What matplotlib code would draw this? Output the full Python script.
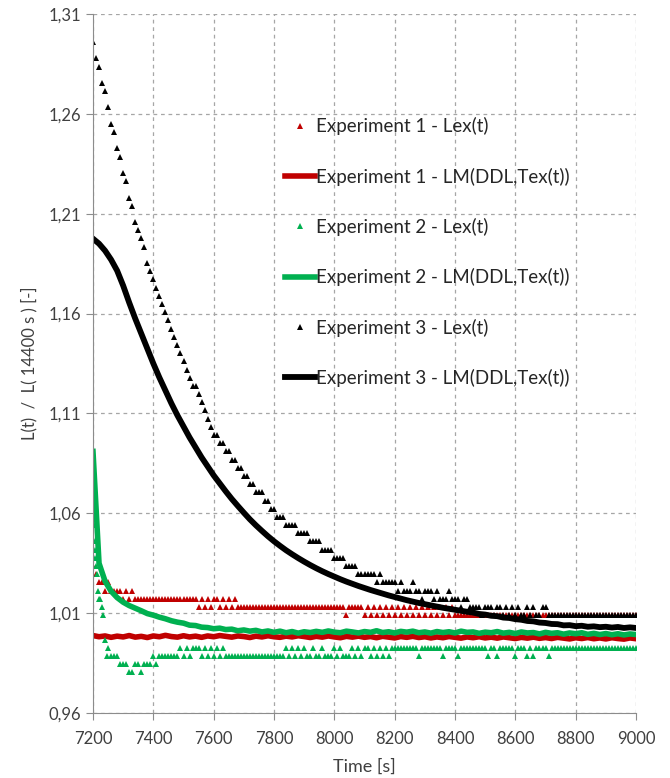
import numpy as np
import matplotlib
matplotlib.use('Agg')
import matplotlib.pyplot as plt
from matplotlib.ticker import FuncFormatter

plt.rcParams['font.family'] = ['Lato', 'DejaVu Sans']

# time axes [s]
t_lex = np.arange(7200, 9001, 10)   # measured points every 10 s
t_lm = np.arange(7200, 9001, 20)    # model output every 20 s

# Experiment 1 - Lex(t)
red_lex = [
    1.0336, 1.0295, 1.0254, 1.0254, 1.0213, 1.0254, 1.0213, 1.0213, 1.0213, 1.0213,
    1.0172, 1.0213, 1.0172, 1.0213, 1.0172, 1.0172, 1.0172, 1.0172, 1.0172, 1.0172,
    1.0172, 1.0172, 1.0172, 1.0172, 1.0172, 1.0172, 1.0172, 1.0172, 1.0172, 1.0172,
    1.0172, 1.0172, 1.0172, 1.0172, 1.0172, 1.0131, 1.0172, 1.0131, 1.0172, 1.0131,
    1.0172, 1.0172, 1.0131, 1.0172, 1.0131, 1.0172, 1.0131, 1.0172, 1.0131, 1.0131,
    1.0131, 1.0131, 1.0131, 1.0131, 1.0131, 1.0131, 1.0131, 1.0131, 1.0131, 1.0131,
    1.0131, 1.0131, 1.0131, 1.0131, 1.0131, 1.0131, 1.0131, 1.0131, 1.0131, 1.0131,
    1.0131, 1.0131, 1.0131, 1.0131, 1.0131, 1.0131, 1.0131, 1.0131, 1.0131, 1.0131,
    1.0131, 1.0131, 1.0131, 1.0131, 1.0090, 1.0131, 1.0131, 1.0131, 1.0131, 1.0131,
    1.0090, 1.0131, 1.0090, 1.0131, 1.0090, 1.0131, 1.0090, 1.0131, 1.0090, 1.0131,
    1.0090, 1.0131, 1.0090, 1.0131, 1.0090, 1.0131, 1.0090, 1.0131, 1.0090, 1.0131,
    1.0090, 1.0131, 1.0090, 1.0131, 1.0090, 1.0131, 1.0090, 1.0131, 1.0090, 1.0131,
    1.0090, 1.0090, 1.0090, 1.0090, 1.0090, 1.0090, 1.0090, 1.0090, 1.0090, 1.0090,
    1.0090, 1.0090, 1.0090, 1.0090, 1.0090, 1.0090, 1.0090, 1.0090, 1.0090, 1.0090,
    1.0090, 1.0090, 1.0090, 1.0090, 1.0090, 1.0090, 1.0090, 1.0090, 1.0090, 1.0090,
    1.0090, 1.0090, 1.0090, 1.0090, 1.0090, 1.0090, 1.0090, 1.0090, 1.0090, 1.0090,
    1.0090, 1.0090, 1.0090, 1.0090, 1.0090, 1.0090, 1.0090, 1.0090, 1.0090, 1.0090,
    1.0090, 1.0090, 1.0090, 1.0090, 1.0090, 1.0090, 1.0090, 1.0090, 1.0090, 1.0090,
    1.0090,
]

# Experiment 1 - LM(DDL,Tex(t))
red_lm = [
    0.9988, 0.9982, 0.9986, 0.9979, 0.9985, 0.9981, 0.9988, 0.9980, 0.9984, 0.9978,
    0.9986, 0.9982, 0.9989, 0.9983, 0.9980, 0.9987, 0.9981, 0.9985, 0.9979, 0.9986,
    0.9982, 0.9988, 0.9984, 0.9980, 0.9986, 0.9983, 0.9978, 0.9985, 0.9981, 0.9987,
    0.9982, 0.9979, 0.9985, 0.9981, 0.9987, 0.9983, 0.9978, 0.9984, 0.9980, 0.9986,
    0.9981, 0.9977, 0.9984, 0.9980, 0.9985, 0.9979, 0.9983, 0.9977, 0.9984, 0.9980,
    0.9976, 0.9983, 0.9979, 0.9984, 0.9978, 0.9982, 0.9976, 0.9981, 0.9977, 0.9983,
    0.9979, 0.9975, 0.9981, 0.9977, 0.9982, 0.9976, 0.9980, 0.9975, 0.9981, 0.9977,
    0.9973, 0.9979, 0.9975, 0.9980, 0.9974, 0.9978, 0.9973, 0.9979, 0.9975, 0.9971,
    0.9977, 0.9973, 0.9978, 0.9972, 0.9976, 0.9971, 0.9977, 0.9973, 0.9970, 0.9976,
    0.9972,
]

# Experiment 2 - Lex(t)
green_lex = [
    1.0705, 1.0336, 1.0172, 1.0131, 0.9967, 0.9926, 0.9885, 0.9885, 0.9885, 0.9844,
    0.9844, 0.9844, 0.9803, 0.9803, 0.9844, 0.9844, 0.9803, 0.9844, 0.9844, 0.9844,
    0.9885, 0.9844, 0.9885, 0.9885, 0.9885, 0.9885, 0.9885, 0.9885, 0.9885, 0.9926,
    0.9885, 0.9926, 0.9885, 0.9926, 0.9926, 0.9926, 0.9885, 0.9926, 0.9885, 0.9926,
    0.9885, 0.9926, 0.9885, 0.9926, 0.9885, 0.9885, 0.9885, 0.9885, 0.9885, 0.9885,
    0.9885, 0.9885, 0.9885, 0.9885, 0.9885, 0.9885, 0.9885, 0.9885, 0.9885, 0.9885,
    0.9885, 0.9885, 0.9885, 0.9885, 0.9926, 0.9885, 0.9926, 0.9885, 0.9926, 0.9885,
    0.9926, 0.9885, 0.9885, 0.9926, 0.9885, 0.9885, 0.9926, 0.9885, 0.9885, 0.9885,
    0.9926, 0.9885, 0.9926, 0.9885, 0.9885, 0.9885, 0.9926, 0.9885, 0.9926, 0.9885,
    0.9926, 0.9926, 0.9885, 0.9926, 0.9885, 0.9926, 0.9885, 0.9926, 0.9885, 0.9926,
    0.9926, 0.9926, 0.9926, 0.9926, 0.9926, 0.9926, 0.9926, 0.9926, 0.9885, 0.9926,
    0.9926, 0.9926, 0.9926, 0.9926, 0.9926, 0.9926, 0.9885, 0.9926, 0.9926, 0.9926,
    0.9926, 0.9885, 0.9926, 0.9926, 0.9926, 0.9926, 0.9926, 0.9926, 0.9926, 0.9926,
    0.9926, 0.9885, 0.9926, 0.9926, 0.9885, 0.9926, 0.9926, 0.9926, 0.9926, 0.9926,
    0.9885, 0.9926, 0.9926, 0.9926, 0.9885, 0.9926, 0.9885, 0.9926, 0.9926, 0.9926,
    0.9926, 0.9885, 0.9926, 0.9926, 0.9926, 0.9926, 0.9926, 0.9926, 0.9926, 0.9926,
    0.9926, 0.9926, 0.9926, 0.9926, 0.9926, 0.9926, 0.9926, 0.9926, 0.9926, 0.9926,
    0.9926, 0.9926, 0.9926, 0.9926, 0.9926, 0.9926, 0.9926, 0.9926, 0.9926, 0.9926,
    0.9926,
]
# extra points of the fast drop right after 7200 s
green_lex_t0 = [7201, 7202, 7203, 7205, 7207, 7213, 7216, 7224, 7233, 7245]
green_lex_v0 = [1.0623, 1.0541, 1.0459, 1.0418, 1.0377, 1.0295, 1.0213, 1.0172, 1.0090, 0.9885]

# Experiment 2 - LM(DDL,Tex(t))
green_lm = [
    1.0910, 1.0350, 1.0260, 1.0210, 1.0178, 1.0155, 1.0138, 1.0125, 1.0112, 1.0098,
    1.0090, 1.0080, 1.0072, 1.0062, 1.0055, 1.0050, 1.0040, 1.0038, 1.0030, 1.0028,
    1.0022, 1.0025, 1.0018, 1.0020, 1.0012, 1.0016, 1.0010, 1.0014, 1.0006, 1.0011,
    1.0004, 1.0010, 1.0002, 1.0008, 1.0000, 1.0007, 1.0003, 1.0009, 1.0004, 1.0011,
    1.0005, 1.0002, 1.0010, 1.0006, 1.0001, 1.0008, 1.0004, 1.0012, 1.0003, 1.0007,
    1.0001, 1.0009, 1.0005, 1.0010, 1.0002, 1.0006, 1.0000, 1.0008, 1.0003, 1.0007,
    1.0001, 1.0010, 1.0004, 1.0006, 0.9999, 1.0005, 1.0002, 1.0008, 1.0000, 1.0004,
    0.9998, 1.0006, 1.0001, 1.0003, 0.9996, 1.0004, 0.9999, 1.0002, 0.9995, 1.0001,
    0.9997, 1.0002, 0.9994, 0.9999, 0.9993, 0.9998, 0.9992, 0.9997, 0.9991, 0.9996,
    0.9993,
]

# Experiment 3 - Lex(t)
black_lex = [
    1.2960, 1.2878, 1.2837, 1.2755, 1.2714, 1.2632, 1.2550, 1.2509, 1.2427, 1.2386,
    1.2304, 1.2263, 1.2181, 1.2140, 1.2058, 1.2017, 1.1976, 1.1935, 1.1853, 1.1812,
    1.1771, 1.1730, 1.1689, 1.1648, 1.1607, 1.1566, 1.1525, 1.1484, 1.1443, 1.1402,
    1.1361, 1.1320, 1.1279, 1.1238, 1.1238, 1.1197, 1.1156, 1.1115, 1.1074, 1.1033,
    1.0992, 1.0992, 1.0951, 1.0951, 1.0910, 1.0910, 1.0869, 1.0869, 1.0828, 1.0828,
    1.0787, 1.0787, 1.0746, 1.0746, 1.0705, 1.0705, 1.0705, 1.0664, 1.0664, 1.0623,
    1.0623, 1.0582, 1.0582, 1.0582, 1.0541, 1.0541, 1.0541, 1.0541, 1.0500, 1.0500,
    1.0500, 1.0500, 1.0459, 1.0459, 1.0459, 1.0459, 1.0418, 1.0418, 1.0418, 1.0418,
    1.0377, 1.0377, 1.0377, 1.0377, 1.0336, 1.0336, 1.0336, 1.0336, 1.0295, 1.0295,
    1.0295, 1.0295, 1.0295, 1.0295, 1.0254, 1.0295, 1.0254, 1.0254, 1.0254, 1.0254,
    1.0254, 1.0213, 1.0254, 1.0213, 1.0213, 1.0213, 1.0254, 1.0213, 1.0213, 1.0172,
    1.0213, 1.0213, 1.0213, 1.0172, 1.0213, 1.0172, 1.0172, 1.0172, 1.0213, 1.0172,
    1.0172, 1.0172, 1.0131, 1.0172, 1.0172, 1.0131, 1.0131, 1.0131, 1.0131, 1.0090,
    1.0131, 1.0131, 1.0131, 1.0090, 1.0131, 1.0131, 1.0090, 1.0131, 1.0090, 1.0131,
    1.0090, 1.0131, 1.0090, 1.0090, 1.0131, 1.0090, 1.0131, 1.0090, 1.0090, 1.0131,
    1.0131, 1.0090, 1.0090, 1.0090, 1.0090, 1.0090, 1.0090, 1.0090, 1.0090, 1.0090,
    1.0090, 1.0090, 1.0090, 1.0090, 1.0090, 1.0090, 1.0090, 1.0090, 1.0090, 1.0090,
    1.0090, 1.0090, 1.0090, 1.0090, 1.0090, 1.0090, 1.0090, 1.0090, 1.0090, 1.0090,
    1.0090,
]

# Experiment 3 - LM(DDL,Tex(t))
black_lm = [
    1.1975, 1.1950, 1.1915, 1.1870, 1.1815, 1.1740, 1.1655, 1.1575, 1.1500, 1.1425,
    1.1350, 1.1280, 1.1215, 1.1150, 1.1090, 1.1035, 1.0980, 1.0930, 1.0880, 1.0835,
    1.0790, 1.0750, 1.0710, 1.0672, 1.0637, 1.0603, 1.0570, 1.0540, 1.0512, 1.0485,
    1.0460, 1.0437, 1.0415, 1.0395, 1.0376, 1.0358, 1.0341, 1.0325, 1.0310, 1.0296,
    1.0283, 1.0270, 1.0258, 1.0247, 1.0236, 1.0226, 1.0216, 1.0207, 1.0198, 1.0189,
    1.0181, 1.0173, 1.0165, 1.0158, 1.0151, 1.0145, 1.0139, 1.0133, 1.0127, 1.0122,
    1.0117, 1.0112, 1.0107, 1.0103, 1.0096, 1.0093, 1.0087, 1.0085, 1.0078, 1.0076,
    1.0070, 1.0067, 1.0061, 1.0059, 1.0053, 1.0051, 1.0046, 1.0045, 1.0039, 1.0040,
    1.0035, 1.0037, 1.0032, 1.0034, 1.0030, 1.0032, 1.0028, 1.0031, 1.0026, 1.0029,
    1.0026,
]

labels = ['Experiment 1 - Lex(t)', 'Experiment 1 - LM(DDL,Tex(t))',
          'Experiment 2 - Lex(t)', 'Experiment 2 - LM(DDL,Tex(t))',
          'Experiment 3 - Lex(t)', 'Experiment 3 - LM(DDL,Tex(t))']

c_red = '#c00000'
c_green = '#00b050'
c_black = '#000000'
txt_col = '#404040'
ax_col = '#8c8c8c'

fig = plt.figure(figsize=(6.7, 7.78), dpi=100)
ax = fig.add_axes([0.1388, 0.0835, 0.8105, 0.8985])

mk = dict(ls='none', marker='^', ms=4.4, mew=0)
ax.plot(t_lex, red_lex, color=c_red, label=labels[0], **mk)
ax.plot(t_lm, red_lm, color=c_red, lw=4.0, label=labels[1])
ax.plot(np.concatenate([t_lex, green_lex_t0]), np.concatenate([green_lex, green_lex_v0]),
        color=c_green, label=labels[2], **mk)
ax.plot(t_lm, green_lm, color=c_green, lw=4.0, label=labels[3])
ax.plot(t_lex, black_lex, color=c_black, label=labels[4], **mk)
ax.plot(t_lm, black_lm, color=c_black, lw=4.2, label=labels[5])

ax.set_xlim(7200, 9000)
ax.set_ylim(0.96, 1.31)
ax.set_xticks(np.arange(7200, 9001, 200))
ax.set_yticks(np.arange(0.96, 1.3101, 0.05))
ax.yaxis.set_major_formatter(FuncFormatter(lambda v, p: '{:.2f}'.format(v).replace('.', ',')))

ax.grid(True, ls=(0, (3, 3)), color='#a6a6a6', lw=0.9)
ax.set_axisbelow(True)
for s in ['top', 'right']:
    ax.spines[s].set_visible(False)
for s in ['left', 'bottom']:
    ax.spines[s].set_color(ax_col)
ax.tick_params(direction='out', length=5, color=ax_col, labelsize=12,
               labelcolor=txt_col)
ax.tick_params(axis='x', pad=8)

ax.set_xlabel('Time [s]', fontsize=13, color=txt_col, labelpad=8)
ax.set_ylabel('L(t)  /  L( 14400 s ) [-]', fontsize=12, color=txt_col, labelpad=8)

ax.legend(loc='upper left', bbox_to_anchor=(0.339, 0.863), frameon=False,
          fontsize=13.5, labelspacing=1.72, handlelength=1.6, handletextpad=0.05,
          numpoints=1, labelcolor='#262626', borderaxespad=0)

plt.savefig('out.png', dpi=100)
